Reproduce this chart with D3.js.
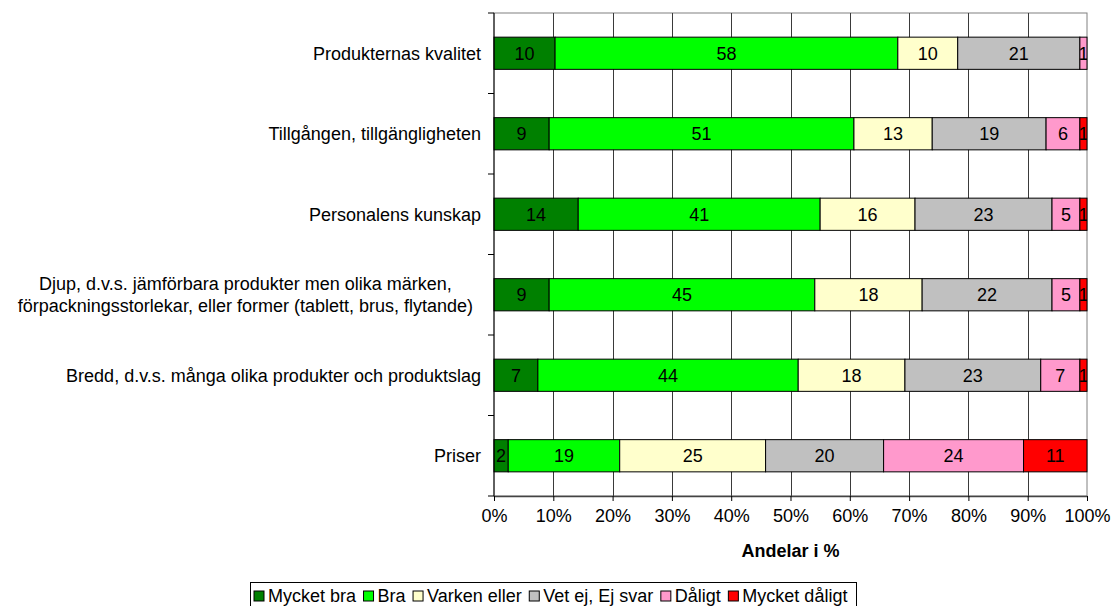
<!DOCTYPE html>
<html>
<head>
<meta charset="utf-8">
<script src="https://cdn.jsdelivr.net/npm/d3@7"></script>
<style>
  body { margin: 0; background: #fff; }
  text { font-family: Arial, "Liberation Sans", sans-serif; }
</style>
</head>
<body>
<script>
// categories (multi-line labels as arrays)
let categories = [
  ['Produkternas kvalitet'],
  ['Tillgången, tillgängligheten'],
  ['Personalens kunskap'],
  ['Djup, d.v.s. jämförbara produkter men olika märken,', 'förpackningsstorlekar, eller former (tablett, brus, flytande)'],
  ['Bredd, d.v.s. många olika produkter och produktslag'],
  ['Priser']
];

// series, in percent
let mycketBra    = [10.3,  9.3, 14.2,  9.3,  7.4,  2.4];
let bra          = [57.8, 51.4, 40.8, 44.8, 43.9, 18.8];
let varken       = [10.1, 13.2, 16.0, 18.1, 18.0, 24.6];
let vetEj        = [20.6, 19.2, 23.1, 21.9, 22.9, 19.9];
let daligt       = [ 1.2,  5.7,  4.7,  4.7,  6.6, 23.6];
let mycketDaligt = [ 0.0,  1.2,  1.2,  1.2,  1.2, 10.7];

let seriesNames = ['Mycket bra', 'Bra', 'Varken eller', 'Vet ej, Ej svar', 'Dåligt', 'Mycket dåligt'];
let seriesValues = [mycketBra, bra, varken, vetEj, daligt, mycketDaligt];
let colors = ['#008000', '#00ff00', '#ffffcc', '#c0c0c0', '#ff99cc', '#ff0000'];
let xTicks = [0, 10, 20, 30, 40, 50, 60, 70, 80, 90, 100];

let width = 1113, height = 606;
let margin = { top: 13, bottom: 110, left: 494, right: 26 };

let svg = d3.select('body')
  .append('svg')
  .attr('width', width)
  .attr('height', height);

let xScale = d3.scaleLinear()
  .domain([0, 100])
  .range([margin.left, width - margin.right]);

let yScale = d3.scaleBand()
  .domain(d3.range(categories.length))
  .range([margin.top, height - margin.bottom])
  .paddingInner(0.6)
  .paddingOuter(0.3);

let plotTop = margin.top, plotBottom = height - margin.bottom;
let step = yScale.step();

// plot frame (top/right) and vertical gridlines
svg.append('rect')
  .attr('x', xScale(0)).attr('y', plotTop)
  .attr('width', xScale(100) - xScale(0)).attr('height', plotBottom - plotTop)
  .attr('fill', 'none').attr('stroke', '#808080');

svg.append('g')
  .selectAll('line')
  .data(xTicks.slice(1, -1))
  .enter()
  .append('line')
  .attr('x1', d => Math.round(xScale(d)) + 0.5)
  .attr('x2', d => Math.round(xScale(d)) + 0.5)
  .attr('y1', plotTop).attr('y2', plotBottom)
  .attr('stroke', '#3a3a3a');

// stacked data
let stacked = categories.map((c, i) => {
  let x0 = 0;
  return seriesValues.map((s, k) => {
    let seg = { row: i, k: k, v: s[i], x0: x0, x1: x0 + s[i] };
    x0 += s[i];
    return seg;
  });
});
let segs = stacked.flat().filter(d => d.v > 0);

svg.append('clipPath').attr('id', 'plotclip')
  .append('rect')
  .attr('x', xScale(0)).attr('y', plotTop)
  .attr('width', xScale(100) - xScale(0)).attr('height', plotBottom - plotTop);

svg.append('g')
  .selectAll('rect')
  .data(segs)
  .enter()
  .append('rect')
  .attr('x', d => xScale(d.x0))
  .attr('y', d => yScale(d.row))
  .attr('width', d => xScale(d.x1) - xScale(d.x0))
  .attr('height', yScale.bandwidth())
  .attr('fill', d => colors[d.k])
  .attr('stroke', '#000')
  .attr('stroke-width', 1);

svg.append('g')
  .attr('clip-path', 'url(#plotclip)')
  .selectAll('text')
  .data(segs)
  .enter()
  .append('text')
  .attr('x', d => (xScale(d.x0) + xScale(d.x1)) / 2)
  .attr('y', d => yScale(d.row) + yScale.bandwidth() / 2)
  .attr('dy', '0.35em')
  .attr('text-anchor', 'middle')
  .attr('font-size', 18)
  .attr('fill', '#000')
  .text(d => Math.round(d.v));

// y axis: line + ticks at band boundaries
let yAxis = svg.append('g');
yAxis.append('line')
  .attr('x1', xScale(0)).attr('x2', xScale(0))
  .attr('y1', plotTop).attr('y2', plotBottom)
  .attr('stroke', '#000');
yAxis.selectAll('line.tick')
  .data(d3.range(categories.length + 1))
  .enter()
  .append('line')
  .attr('class', 'tick')
  .attr('x1', xScale(0) - 6).attr('x2', xScale(0))
  .attr('y1', d => plotTop + d * step)
  .attr('y2', d => plotTop + d * step)
  .attr('stroke', '#000');

// category labels
let labelRight = xScale(0) - 13;
let labels = svg.append('g');
categories.forEach((lines, i) => {
  let cy = yScale(i) + yScale.bandwidth() / 2;
  let lh = 22;
  let t = labels.append('text')
    .attr('font-size', 18)
    .attr('fill', '#000');
  lines.forEach((ln, j) => {
    t.append('tspan')
      .attr('x', labelRight)
      .attr('y', cy + (j - (lines.length - 1) / 2) * lh)
      .attr('dy', '0.35em')
      .text(ln);
  });
  if (lines.length > 1) {
    let maxW = d3.max(t.selectAll('tspan').nodes(), n => n.getComputedTextLength());
    t.attr('text-anchor', 'middle');
    t.selectAll('tspan').attr('x', labelRight - 8 - maxW / 2);
  } else {
    t.attr('text-anchor', 'end');
  }
});

// x axis
let xAxis = svg.append('g')
  .attr('transform', `translate(0, ${plotBottom})`)
  .call(d3.axisBottom(xScale).tickValues(xTicks).tickSize(5).tickSizeOuter(0).tickFormat(d => d + '%'));
xAxis.select('.domain').attr('stroke', '#444').attr('stroke-width', 1.5);
xAxis.selectAll('.tick line').attr('stroke', '#000');
xAxis.selectAll('.tick text')
  .attr('font-size', 18)
  .attr('font-family', 'Arial, "Liberation Sans", sans-serif')
  .attr('fill', '#000')
  .attr('y', 13);

svg.append('text')
  .attr('x', (xScale(0) + xScale(100)) / 2)
  .attr('y', 557)
  .attr('text-anchor', 'middle')
  .attr('font-size', 18)
  .attr('font-weight', 'bold')
  .text('Andelar i %');

// legend
let legend = svg.append('g');
let lx = 254;
seriesNames.forEach((name, k) => {
  let g = legend.append('g');
  g.append('rect')
    .attr('x', lx).attr('y', 591)
    .attr('width', 10).attr('height', 10)
    .attr('fill', colors[k]).attr('stroke', '#000');
  let t = g.append('text')
    .attr('x', lx + 14).attr('y', 602)
    .attr('font-size', 18)
    .text(name);
  lx += 14 + t.node().getComputedTextLength() + 7.5;
});
legend.insert('rect', ':first-child')
  .attr('x', 250.5).attr('y', 582.5)
  .attr('width', 856 - 250).attr('height', 30)
  .attr('fill', '#fff').attr('stroke', '#000');
</script>
</body>
</html>
